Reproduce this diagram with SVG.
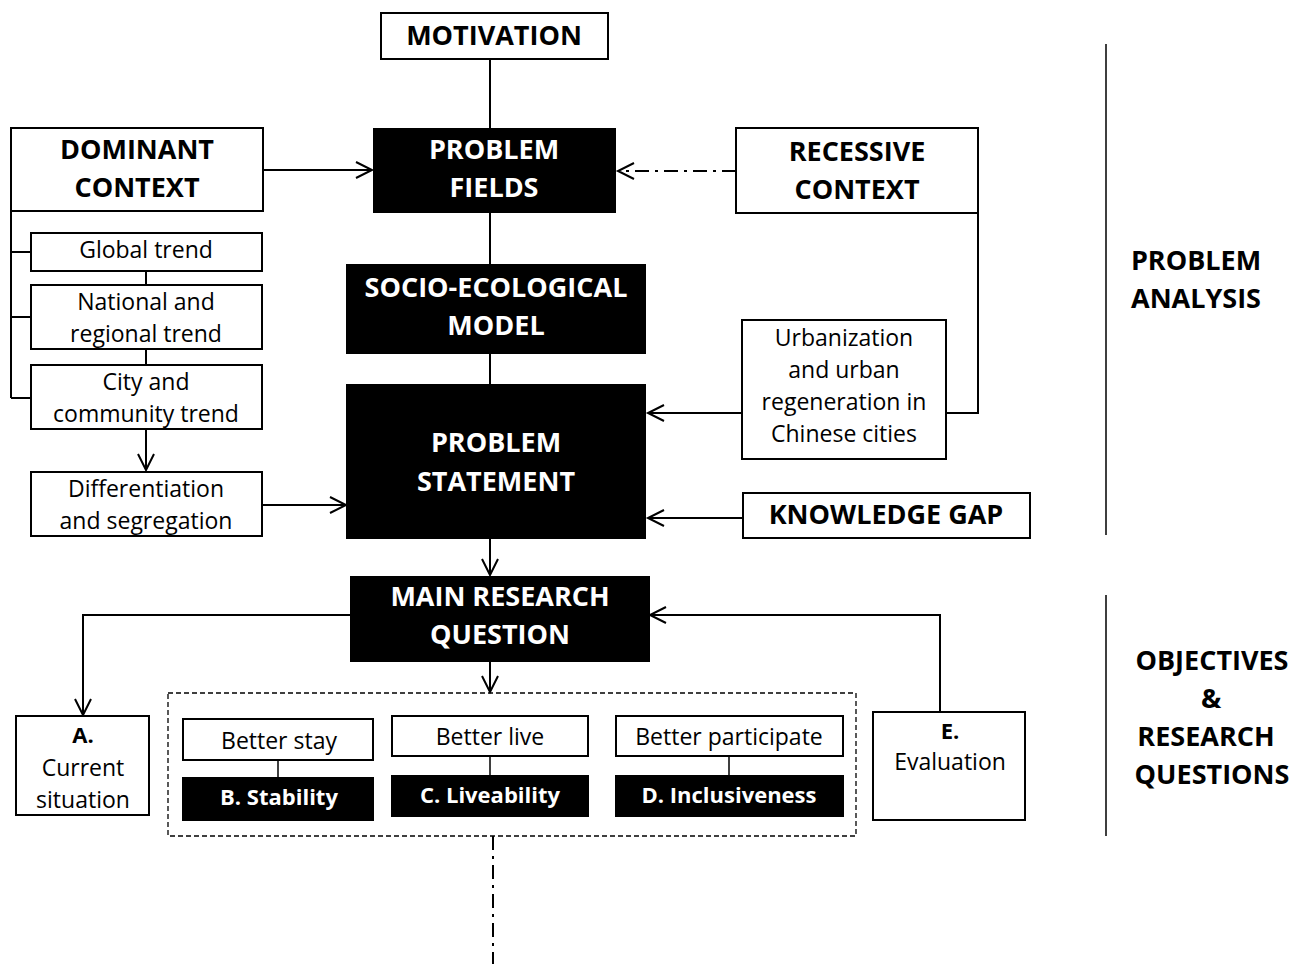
<svg xmlns="http://www.w3.org/2000/svg" width="1300" height="964" viewBox="0 0 1300 964">
  <style>
    .box { fill: #fff; stroke: #000; stroke-width: 2; }
    .dark { fill: #000; stroke: #000; stroke-width: 2; }
    .t { font-family: "Open Sans", "Noto Sans", sans-serif; font-size: 23px; fill: #000; text-anchor: middle; }
    .b { font-family: "Open Sans", "Noto Sans", sans-serif; font-size: 27px; font-weight: bold; fill: #000; text-anchor: middle; }
    .bs { font-family: "Open Sans", "Noto Sans", sans-serif; font-size: 22px; font-weight: bold; fill: #000; text-anchor: middle; }
    .w { fill: #fff; }
    .ln { fill: none; stroke: #000; stroke-width: 2; }
    .thin { fill: none; stroke: #000; stroke-width: 1.5; }
    .dashdot { fill: none; stroke: #000; stroke-width: 2; stroke-dasharray: 14 6 3 6; }
    .dashbox { fill: none; stroke: #000; stroke-width: 1.3; stroke-dasharray: 5 3; }
  </style>
  <defs>
    <marker id="arr" markerUnits="userSpaceOnUse" markerWidth="20" markerHeight="20" viewBox="0 0 20 20" refX="17" refY="10" orient="auto">
      <path d="M1,2 L17,10 L1,18" fill="none" stroke="#000" stroke-width="2"/>
    </marker>
  </defs>

  <!-- connectors -->
  <g id="connectors">
    <path class="ln" d="M490,59 V129"/>
    <path class="ln" d="M263,170 H372" marker-end="url(#arr)"/>
    <path class="dashdot" d="M736,171 H618" marker-end="url(#arr)"/>
    <path class="ln" d="M490,212 V265"/>
    <path class="ln" d="M490,353 V385"/>
    <path class="ln" d="M978,213 V413 H946"/>
    <path class="ln" d="M742,413 H648" marker-end="url(#arr)"/>
    <path class="ln" d="M743,518 H648" marker-end="url(#arr)"/>
    <path class="ln" d="M11,211 V398"/>
    <path class="ln" d="M11,252 H31 M11,317 H31 M11,398 H31"/>
    <path class="ln" d="M146,271 V285 M146,349 V365"/>
    <path class="ln" d="M146,429 V470" marker-end="url(#arr)"/>
    <path class="ln" d="M262,505 H346" marker-end="url(#arr)"/>
    <path class="ln" d="M490,538 V575" marker-end="url(#arr)"/>
    <path class="ln" d="M351,615 H83 V715" marker-end="url(#arr)"/>
    <path class="ln" d="M940,712 V615 H650" marker-end="url(#arr)"/>
    <path class="ln" d="M490,661 V692" marker-end="url(#arr)"/>
    <path class="thin" d="M278,760 V778 M490,756 V776 M729,756 V776"/>
    <path class="dashdot" d="M493,836 V964"/>
    <path class="thin" d="M1106,44 V535 M1106,595 V836"/>
  </g>

  <g id="motivation">
    <rect class="box" x="381" y="13" width="227" height="46"/>
    <text class="b" x="494" y="45">MOTIVATION</text>
  </g>

  <g id="problem-fields">
    <rect class="dark" x="374" y="129" width="241" height="83"/>
    <text class="b w" x="494" y="159">PROBLEM</text>
    <text class="b w" x="494" y="197">FIELDS</text>
  </g>

  <g id="dominant-context">
    <rect class="box" x="11" y="128" width="252" height="83"/>
    <text class="b" x="137" y="159">DOMINANT</text>
    <text class="b" x="137" y="197">CONTEXT</text>
  </g>

  <g id="recessive-context">
    <rect class="box" x="736" y="128" width="242" height="85"/>
    <text class="b" x="857" y="161">RECESSIVE</text>
    <text class="b" x="857" y="199">CONTEXT</text>
  </g>

  <g id="global-trend">
    <rect class="box" x="31" y="233" width="231" height="38"/>
    <text class="t" x="146" y="258">Global trend</text>
  </g>

  <g id="national-trend">
    <rect class="box" x="31" y="285" width="231" height="64"/>
    <text class="t" x="146" y="310">National and</text>
    <text class="t" x="146" y="342">regional trend</text>
  </g>

  <g id="city-trend">
    <rect class="box" x="31" y="365" width="231" height="64"/>
    <text class="t" x="146" y="390">City and</text>
    <text class="t" x="146" y="422">community trend</text>
  </g>

  <g id="differentiation">
    <rect class="box" x="31" y="472" width="231" height="64"/>
    <text class="t" x="146" y="497">Differentiation</text>
    <text class="t" x="146" y="529">and segregation</text>
  </g>

  <g id="socio-ecological-model">
    <rect class="dark" x="347" y="265" width="298" height="88"/>
    <text class="b w" x="496" y="297">SOCIO-ECOLOGICAL</text>
    <text class="b w" x="496" y="335">MODEL</text>
  </g>

  <g id="urbanization">
    <rect class="box" x="742" y="320" width="204" height="139"/>
    <text class="t" x="844" y="346">Urbanization</text>
    <text class="t" x="844" y="378">and urban</text>
    <text class="t" x="844" y="410">regeneration in</text>
    <text class="t" x="844" y="442">Chinese cities</text>
  </g>

  <g id="problem-statement">
    <rect class="dark" x="347" y="385" width="298" height="153"/>
    <text class="b w" x="496" y="452">PROBLEM</text>
    <text class="b w" x="496" y="491">STATEMENT</text>
  </g>

  <g id="knowledge-gap">
    <rect class="box" x="743" y="493" width="287" height="45"/>
    <text class="b" x="886" y="524">KNOWLEDGE GAP</text>
  </g>

  <g id="main-research-question">
    <rect class="dark" x="351" y="577" width="298" height="84"/>
    <text class="b w" x="500" y="606">MAIN RESEARCH</text>
    <text class="b w" x="500" y="644">QUESTION</text>
  </g>

  <g id="current-situation">
    <rect class="box" x="16" y="716" width="133" height="99"/>
    <text class="bs" x="83" y="743">A.</text>
    <text class="t" x="83" y="776">Current</text>
    <text class="t" x="83" y="808">situation</text>
  </g>

  <g id="objectives-group">
    <rect class="dashbox" x="168" y="693" width="688" height="143"/>
  </g>

  <g id="better-stay">
    <rect class="box" x="183" y="719" width="190" height="41"/>
    <text class="t" x="279" y="749">Better stay</text>
  </g>
  <g id="stability">
    <rect class="dark" x="183" y="778" width="190" height="42"/>
    <text class="bs w" x="279" y="805">B. Stability</text>
  </g>

  <g id="better-live">
    <rect class="box" x="392" y="716" width="196" height="40"/>
    <text class="t" x="490" y="745">Better live</text>
  </g>
  <g id="liveability">
    <rect class="dark" x="392" y="776" width="196" height="40"/>
    <text class="bs w" x="490" y="803">C. Liveability</text>
  </g>

  <g id="better-participate">
    <rect class="box" x="616" y="716" width="227" height="40"/>
    <text class="t" x="729" y="745">Better participate</text>
  </g>
  <g id="inclusiveness">
    <rect class="dark" x="616" y="776" width="227" height="40"/>
    <text class="bs w" x="729" y="803">D. Inclusiveness</text>
  </g>

  <g id="evaluation">
    <rect class="box" x="873" y="712" width="152" height="108"/>
    <text class="bs" x="950" y="739">E.</text>
    <text class="t" x="950" y="770">Evaluation</text>
  </g>

  <g id="problem-analysis-label">
    <text class="b" x="1196" y="270">PROBLEM</text>
    <text class="b" x="1196" y="308">ANALYSIS</text>
  </g>

  <g id="objectives-label">
    <text class="b" x="1212" y="670">OBJECTIVES</text>
    <text class="b" x="1211" y="708">&amp;</text>
    <text class="b" x="1206" y="746">RESEARCH</text>
    <text class="b" x="1212" y="784">QUESTIONS</text>
  </g>
</svg>
